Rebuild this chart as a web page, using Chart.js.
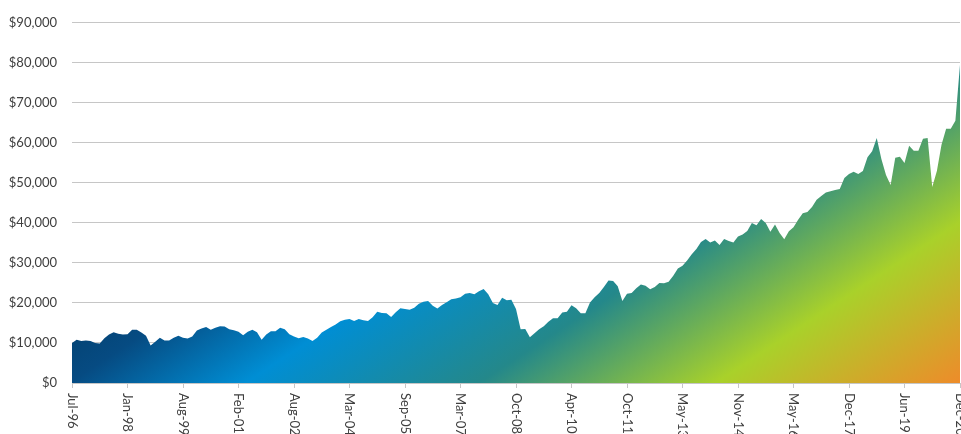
<!DOCTYPE html>
<html>
<head>
<meta charset="utf-8">
<script src="https://cdn.jsdelivr.net/npm/chart.js@4.4.1/dist/chart.umd.min.js"></script>
<style>
  html, body { margin: 0; background: #fff; }
  #wrap { width: 961px; height: 434px; position: relative; }
</style>
</head>
<body>
<div id="wrap"><canvas id="growth"></canvas></div>
<script>
// tick labels on the x axis, one every 12 points
const tickLabels = ['Jul-96', 'Jan-98', 'Aug-99', 'Feb-01', 'Aug-02', 'Mar-04', 'Sep-05', 'Mar-07',
  'Oct-08', 'Apr-10', 'Oct-11', 'May-13', 'Nov-14', 'May-16', 'Dec-17', 'Jun-19', 'Dec-20'];
const tickEvery = 12;

// growth of the investment
const values = [
  10000, 10800, 10500, 10600, 10500, 10000, 9900, 11200, 12100, 12700, 12300, 12100,
  12200, 13300, 13300, 12600, 11800, 9400, 10300, 11300, 10600, 10600, 11300, 11800,
  11300, 11100, 11600, 13100, 13600, 14000, 13300, 13800, 14200, 14100, 13400, 13200,
  12800, 11900, 12800, 13300, 12700, 10800, 12100, 12900, 12900, 13800, 13400, 12200,
  11600, 11200, 11500, 11100, 10500, 11300, 12600, 13300, 14000, 14600, 15400, 15800,
  16000, 15500, 16000, 15700, 15500, 16400, 17800, 17500, 17400, 16500, 17700, 18700,
  18500, 18300, 18800, 19800, 20300, 20500, 19300, 18600, 19500, 20200, 20900, 21100,
  21400, 22300, 22500, 22200, 22900, 23500, 22200, 20000, 19500, 21300, 20700, 20800,
  18500, 13400, 13500, 11400, 12400, 13400, 14200, 15300, 16200, 16200, 17600, 17800,
  19400, 18700, 17400, 17400, 20100, 21400, 22500, 24000, 25600, 25500, 24200, 20500,
  22300, 22500, 23700, 24600, 24300, 23400, 24000, 25000, 24900, 25300, 26800, 28600,
  29300, 30600, 32200, 33500, 35200, 36000, 35100, 35600, 34500, 36000, 35500, 35100,
  36600, 37100, 38000, 40000, 39400, 41000, 40000, 37800, 39600, 37500, 35900, 37900,
  38900, 40800, 42400, 42700, 44000, 45800, 46700, 47600, 47900, 48200, 48500, 51200,
  52200, 52800, 52200, 53000, 56400, 57900, 61200, 56000, 52000, 49500, 56300, 56500,
  55000, 59300, 58000, 58000, 61000, 61200, 49000, 53000, 59500, 63500, 63500, 65500,
  79500
];

const textColor = '#404040';
const gridColor = '#c6c6c6';

function areaGradient(context) {
  const { ctx, chartArea } = context.chart;
  if (!chartArea) return '#0a7ab8';
  const x0 = chartArea.left + 93, y0 = chartArea.top + 230;
  const x1 = chartArea.left + 401, y1 = chartArea.top + 698;
  const g = ctx.createLinearGradient(x0, y0, x1, y1);
  g.addColorStop(0, '#03406f');
  g.addColorStop(0.1, '#064b82');
  g.addColorStop(0.273, '#008ed4');
  g.addColorStop(0.502, '#24888a');
  g.addColorStop(0.734, '#a9d12a');
  g.addColorStop(0.979, '#ef8a2a');
  g.addColorStop(1, '#f08828');
  return g;
}

// x labels read downwards, so they are drawn here at the scale's tick positions
const downLabels = {
  id: 'downLabels',
  afterDraw(chart) {
    const scale = chart.scales.x;
    const ctx = chart.ctx;
    ctx.save();
    ctx.font = '13px Lato';
    ctx.fillStyle = textColor;
    ctx.textAlign = 'left';
    ctx.textBaseline = 'middle';
    scale.ticks.forEach((t, k) => {
      const x = scale.getPixelForValue(t.value);
      ctx.save();
      ctx.translate(x, scale.top + 10);
      ctx.rotate(Math.PI / 2);
      ctx.fillText(tickLabels[k], 0, 0);
      ctx.restore();
    });
    ctx.restore();
  }
};

new Chart(document.getElementById('growth'), {
  type: 'line',
  data: {
    datasets: [{
      data: values.map((v, i) => ({ x: i, y: v })),
      fill: 'origin',
      backgroundColor: areaGradient,
      borderWidth: 0,
      pointRadius: 0,
      tension: 0,
    }],
  },
  options: {
    responsive: true,
    maintainAspectRatio: false,
    animation: false,
    layout: { padding: { top: 20, right: 1, bottom: 46, left: 0 } },
    plugins: {
      legend: { display: false },
      tooltip: { enabled: false },
    },
    scales: {
      x: {
        type: 'linear',
        min: 0,
        max: tickEvery * (tickLabels.length - 1),
        afterBuildTicks: (s) => { s.ticks = tickLabels.map((_, k) => ({ value: k * tickEvery })); },
        ticks: { display: false },
        grid: { drawOnChartArea: false, drawTicks: true, tickLength: 5, color: gridColor },
        border: { color: gridColor },
      },
      y: {
        min: 0,
        max: 90000,
        afterFit: (s) => { s.width = 72; },
        ticks: {
          stepSize: 10000,
          padding: 15,
          color: textColor,
          font: { family: 'Lato', size: 13 },
          callback: (v) => '$' + v.toLocaleString('en-US'),
        },
        grid: { drawTicks: false, color: gridColor },
        border: { display: false },
      },
    },
  },
  plugins: [downLabels],
});
</script>
</body>
</html>
